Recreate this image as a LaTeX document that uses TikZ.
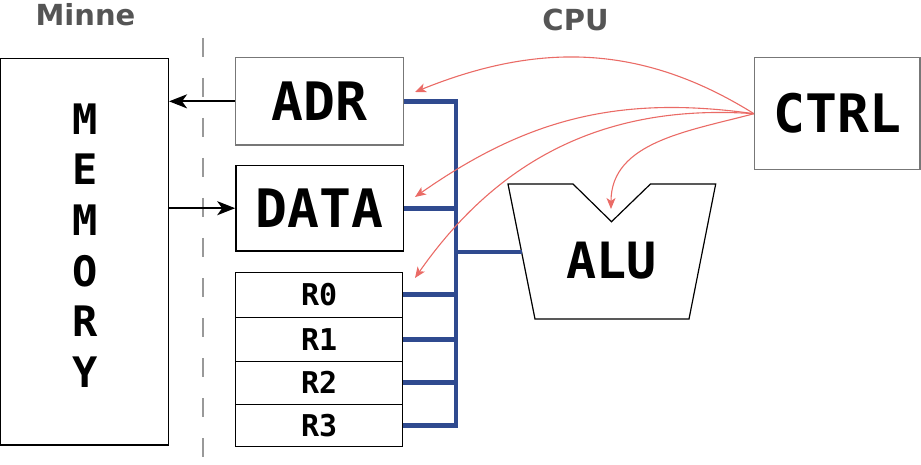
\documentclass[tikz,border=0pt]{standalone}
\usepackage{fontspec}
\setmainfont{DejaVu Sans}
\setsansfont{DejaVu Sans}
\setmonofont{DejaVu Sans Mono}
\usetikzlibrary{arrows.meta}

\definecolor{busblue}{HTML}{2F4A8F}
\definecolor{ctrlred}{HTML}{EA6B66}
\definecolor{titlegray}{HTML}{555555}
\definecolor{boxgray}{HTML}{777777}
\definecolor{dashgray}{HTML}{999999}

\tikzset{
  unit/.style={draw, line width=1.5pt, inner sep=0pt, font=\ttfamily\bfseries\fontsize{53}{60}\selectfont},
  reg/.style={draw, line width=1.2pt, inner sep=0pt, minimum width=167pt, font=\ttfamily\bfseries\fontsize{30}{36}\selectfont},
  bus/.style={busblue, line width=4.8pt},
  signal/.style={ctrlred, line width=1.1pt, -{Stealth[length=11pt,width=9pt,inset=3pt]}},
  transfer/.style={line width=2pt, -{Stealth[length=18pt,width=14pt,inset=5pt]}},
  title/.style={titlegray, font=\sffamily\bfseries\fontsize{29}{34}\selectfont},
}

\begin{document}
\begin{tikzpicture}[x=1pt,y=1pt]
  \useasboundingbox (0,0) rectangle (921,-465);

  %% Titles
  \node[title, anchor=base] (minne) at (85.5,-26) {Minne};
  \node[title, anchor=base] (cpu) at (575.5,-31) {CPU};
  \draw[dashgray, line width=2.3pt, dash pattern=on 19pt off 21pt] (203,-38) -- (203,-457);

  %% Memory
  \node[draw, line width=1.5pt, inner sep=0pt, minimum width=167.6pt, minimum height=386.7pt] (MEM) at (84.5,-251.65) {};
  \node[anchor=north, inner sep=0pt, align=center, font=\ttfamily\bfseries\fontsize{42}{50.7}\selectfont] (memtext) at (84.7,-103.3) {M\\E\\M\\O\\R\\Y};

  %% CPU units
  \node[unit, draw=boxgray, minimum width=167.6pt, minimum height=87.3pt] (ADR) at (319.5,-101.35) {ADR};
  \node[unit, minimum width=167.7pt, minimum height=85.7pt] (DATA) at (319.8,-208.2) {DATA};
  \node[unit, draw=boxgray, minimum width=165.3pt, minimum height=112pt] (CTRL) at (837.35,-113.7) {CTRL};
  \node[reg, minimum height=45pt] (R0) at (319.2,-294.8) {R0};
  \node[reg, minimum height=44pt] (R1) at (319.2,-339.3) {R1};
  \node[reg, minimum height=43pt] (R2) at (319.2,-382.8) {R2};
  \node[reg, minimum height=42pt] (R3) at (319.2,-425.3) {R3};

  %% ALU
  \draw[line width=1.2pt] (508,-184) -- (573,-184) -- (611.5,-221.7) -- (650.5,-184) -- (715.7,-184) -- (689,-319) -- (535,-319) -- cycle;
  \node[inner sep=0pt, font=\ttfamily\bfseries\fontsize{50}{60}\selectfont] (ALU) at (611.5,-261) {ALU};

  %% Memory transfers
  \draw[transfer] (ADR.west) -- (ADR.west -| MEM.east);
  \draw[transfer] (DATA.west -| MEM.east) -- (DATA.west);

  %% Bus
  \coordinate (bustop) at (456,-101.35);
  \coordinate (busbot) at (456,-425.3);
  \coordinate (alubus) at (521.6,-252);
  \draw[bus] (ADR.east) -- (bustop) -- (busbot) -- (R3.east);
  \draw[bus] (DATA.east) -- (DATA.east -| bustop);
  \draw[bus] (R0.east) -- (R0.east -| bustop);
  \draw[bus] (R1.east) -- (R1.east -| bustop);
  \draw[bus] (R2.east) -- (R2.east -| bustop);
  \draw[bus] (alubus) -- (alubus -| bustop);

  %% Control signals
  \coordinate (adrin) at (415,-92);
  \coordinate (datain) at (415,-197);
  \coordinate (r0in) at (415,-278);
  \coordinate (aluin) at (611,-209);
  \draw[signal] (CTRL.west) to[out=148,in=22] (adrin);
  \draw[signal] (CTRL.west) to[out=172,in=35] (datain);
  \draw[signal] (CTRL.west) to[out=176,in=55] (r0in);
  \draw[signal] (CTRL.west) to[out=195,in=90] (aluin);
\end{tikzpicture}
\end{document}
